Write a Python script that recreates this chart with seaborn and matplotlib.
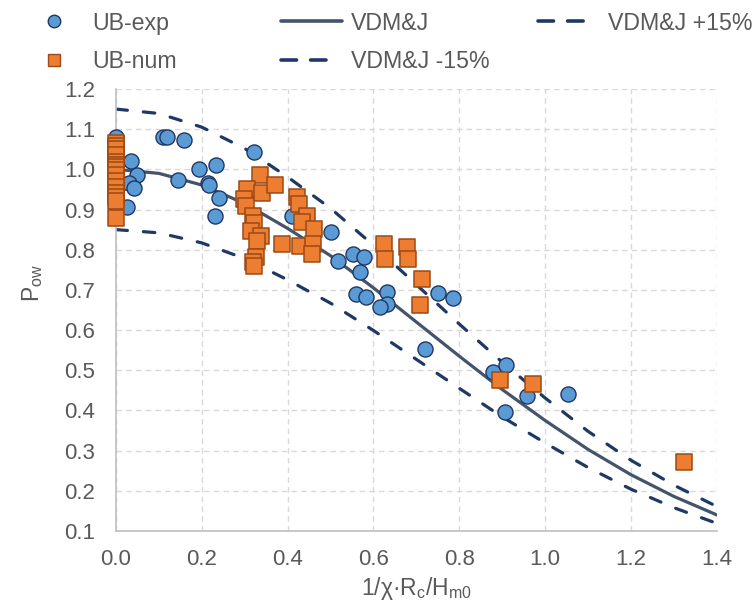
import matplotlib
matplotlib.use("Agg")
import matplotlib.pyplot as plt
import pandas as pd
import seaborn as sns
from matplotlib.lines import Line2D

# UB-exp (circles)
exp_x = [0.0, 0.0, 0.035, 0.05, 0.031, 0.042, 0.026, 0.11, 0.12, 0.158, 0.145,
         0.194, 0.233, 0.214, 0.217, 0.24, 0.231, 0.321, 0.335, 0.325, 0.41,
         0.50, 0.517, 0.552, 0.578, 0.568, 0.559, 0.582, 0.631, 0.631, 0.615,
         0.72, 0.75, 0.785, 0.878, 0.908, 0.906, 0.958, 1.053]
exp_y = [1.08, 0.915, 1.02, 0.985, 0.966, 0.953, 0.906, 1.08, 1.08, 1.072, 0.973,
         1.0, 1.012, 0.966, 0.96, 0.928, 0.885, 1.042, 0.835, 0.785, 0.884,
         0.845, 0.771, 0.79, 0.781, 0.745, 0.69, 0.682, 0.695, 0.665, 0.658,
         0.553, 0.692, 0.68, 0.495, 0.512, 0.395, 0.436, 0.44]

# UB-num (squares)
num_x = [0.0, 0.0, 0.0, 0.0, 0.0, 0.0, 0.0, 0.0, 0.0, 0.0, 0.0, 0.0, 0.0, 0.0, 0.0,
         0.335, 0.305, 0.34, 0.37, 0.298, 0.302, 0.319, 0.322, 0.314, 0.337,
         0.328, 0.326, 0.32, 0.321, 0.387, 0.421, 0.427, 0.445, 0.433, 0.461,
         0.429, 0.459, 0.457, 0.625, 0.677, 0.627, 0.68, 0.713, 0.708, 0.894,
         0.971, 1.323]
num_y = [1.065, 1.058, 1.05, 1.035, 1.018, 1.01, 1.005, 0.998, 0.985, 0.97, 0.955,
         0.94, 0.93, 0.922, 0.88,
         0.987, 0.952, 0.94, 0.962, 0.925, 0.91, 0.885, 0.866, 0.846, 0.833,
         0.821, 0.782, 0.77, 0.76, 0.814, 0.93, 0.914, 0.885, 0.869, 0.851,
         0.81, 0.813, 0.79, 0.815, 0.807, 0.776, 0.776, 0.727, 0.663, 0.475,
         0.466, 0.272]

# VDM&J curve and +/-15% bands
curve_x = [0.0, 0.1, 0.2, 0.3, 0.4, 0.5, 0.6, 0.7, 0.8, 0.9, 1.0, 1.1, 1.2, 1.3, 1.4]
vdm = [1.000, 0.990, 0.961, 0.915, 0.853, 0.785, 0.705, 0.620, 0.535, 0.452,
       0.375, 0.303, 0.240, 0.186, 0.140]
vdm_plus = [1.150, 1.139, 1.105, 1.052, 0.981, 0.903, 0.811, 0.713, 0.615, 0.520,
            0.431, 0.348, 0.276, 0.214, 0.161]
vdm_minus = [0.850, 0.842, 0.817, 0.778, 0.725, 0.667, 0.599, 0.527, 0.455, 0.384,
             0.319, 0.258, 0.204, 0.158, 0.119]

x_ticks = [0.0, 0.2, 0.4, 0.6, 0.8, 1.0, 1.2, 1.4]
y_ticks = [0.1, 0.2, 0.3, 0.4, 0.5, 0.6, 0.7, 0.8, 0.9, 1.0, 1.1, 1.2]


def main():
    sns.set_style("white")
    plt.rcParams["font.family"] = ["Liberation Sans", "DejaVu Sans"]
    plt.rcParams["mathtext.default"] = "regular"
    text_c = "#595959"
    navy = "#1F3864"
    slate = "#44546A"

    fig = plt.figure(figsize=(7.53, 6.07), dpi=100)
    ax = fig.add_axes([0.154, 0.1252, 0.798, 0.7282])

    exp_df = pd.DataFrame({"x": exp_x, "y": exp_y})
    num_df = pd.DataFrame({"x": num_x, "y": num_y})
    curve_df = pd.DataFrame({"x": curve_x, "mid": vdm, "plus": vdm_plus, "minus": vdm_minus})

    dash_kw = dict(color=navy, linewidth=2.3, dashes=(3.6, 5.0), dash_capstyle="round")
    sns.lineplot(data=curve_df, x="x", y="plus", ax=ax, **dash_kw, zorder=2)
    sns.lineplot(data=curve_df, x="x", y="minus", ax=ax, **dash_kw, zorder=2)
    sns.lineplot(data=curve_df, x="x", y="mid", ax=ax, color=slate, linewidth=2.3, zorder=2)

    sns.scatterplot(data=exp_df, x="x", y="y", ax=ax, marker="o", s=118,
                    color="#5B9BD5", edgecolor=navy, linewidth=1.0, zorder=3, clip_on=False)
    sns.scatterplot(data=num_df, x="x", y="y", ax=ax, marker="s", s=120,
                    color="#ED7D31", edgecolor="#9C4A16", linewidth=1.1, zorder=4, clip_on=False)

    ax.set_xlim(0, 1.4)
    ax.set_ylim(0.1, 1.2)
    ax.set_xticks(x_ticks)
    ax.set_xticklabels([f"{v:.1f}" for v in x_ticks])
    ax.set_yticks(y_ticks)
    ax.set_yticklabels([f"{v:.1f}" for v in y_ticks])
    ax.tick_params(axis="both", length=0, labelsize=16, colors=text_c)
    ax.tick_params(axis="x", pad=13)
    ax.tick_params(axis="y", pad=15)
    ax.grid(True, color="#D9D9D9", linestyle=(0, (4, 3)), linewidth=1.0)
    ax.set_axisbelow(True)
    for side in ["top", "right"]:
        ax.spines[side].set_visible(False)
    for side in ["left", "bottom"]:
        ax.spines[side].set_color("#BFBFBF")
        ax.spines[side].set_linewidth(1.2)

    ax.set_xlabel("1/χ·R$_c$/H$_{m0}$", fontsize=16.5, color=text_c)
    ax.set_ylabel("P$_{ow}$", fontsize=16.5, color=text_c)
    ax.xaxis.set_label_coords(0.5, -0.1)
    ax.yaxis.set_label_coords(-0.118, 0.56)

    h_exp = Line2D([], [], marker="o", linestyle="none", markersize=9,
                   markerfacecolor="#5B9BD5", markeredgecolor=navy)
    h_num = Line2D([], [], marker="s", linestyle="none", markersize=9,
                   markerfacecolor="#ED7D31", markeredgecolor="#9C4A16")
    h_mid = Line2D([], [], color=slate, linewidth=2.6)
    h_dash = Line2D([], [], color=navy, linewidth=2.6, dashes=(4.3, 3.9), dash_capstyle="round")

    leg_kw = dict(frameon=False, fontsize=16.7, labelcolor=text_c, loc="center left",
                  borderaxespad=0, borderpad=0)
    entries = [
        (h_exp, "UB-exp", 0.0563, 0.962, 1.0, 1.14),
        (h_num, "UB-num", 0.0563, 0.898, 1.0, 1.14),
        (h_mid, "VDM&J", 0.3732, 0.962, 2.63, 0.39),
        (h_dash, "VDM&J -15%", 0.3732, 0.898, 1.94, 1.08),
        (h_dash, "VDM&J +15%", 0.7145, 0.962, 1.98, 1.03),
    ]
    for handle, label, lx, ly, hlen, tpad in entries:
        fig.legend([handle], [label], bbox_to_anchor=(lx, ly),
                   handlelength=hlen, handletextpad=tpad, **leg_kw)

    fig.savefig("out.png", dpi=100)
    plt.close(fig)


if __name__ == "__main__":
    main()
